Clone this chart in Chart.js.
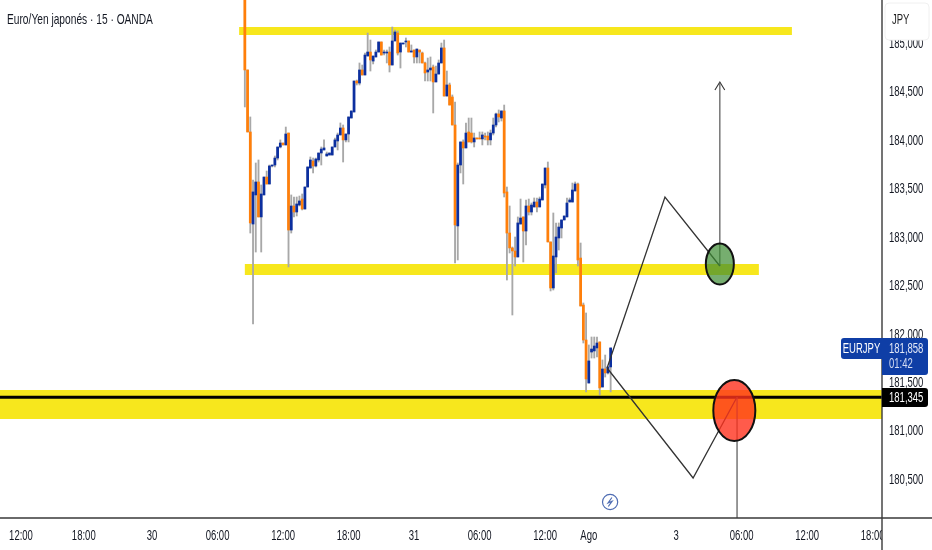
<!DOCTYPE html>
<html>
<head>
<meta charset="utf-8">
<script src="https://cdn.jsdelivr.net/npm/chart.js@4/dist/chart.umd.min.js"></script>
<style>
  html, body { margin: 0; padding: 0; background: #fff; overflow: hidden; }
  canvas { display: block; }
</style>
</head>
<body>
<canvas id="chart" width="932" height="550"></canvas>
<script>
// EUR/JPY 15 min candles
const firstBar = 82;
const opens = [185.496,184.722,184.082,183.132,183.432,183.566,183.205,183.432,183.617,183.545,183.731,183.741,183.813,183.927,183.968,183.948,184.071,183.070,183.318,183.256,183.328,183.390,183.287,183.514,183.710,183.782,183.731,183.793,183.865,183.896,183.834,183.844,183.844,183.927,183.989,184.051,184.123,184.000,184.061,184.226,184.288,184.608,184.587,184.722,184.670,184.866,184.907,184.814,184.856,184.907,185.011,184.897,184.897,184.907,184.773,185.021,185.103,184.907,184.990,185.011,185.021,184.907,184.928,184.856,184.928,184.897,184.794,184.701,184.722,184.753,184.598,184.680,184.794,184.949,184.453,184.567,184.443,184.154,183.112,183.741,183.979,183.917,184.082,184.071,183.979,184.020,184.020,184.010,184.040,184.040,184.000,184.071,184.154,184.268,184.226,184.299,183.463,183.039,182.885,182.854,182.792,183.132,183.205,183.060,183.318,183.256,183.308,183.359,183.308,183.380,183.535,183.710,182.947,182.472,182.792,182.988,183.091,183.174,183.205,183.359,183.359,183.473,183.545,182.781,182.296,181.935,181.491,181.811,181.822,181.853,181.915,181.450,181.636,181.595,181.657];
const closes = [184.722,184.082,183.143,183.463,183.566,183.205,183.442,183.617,183.545,183.731,183.741,183.813,183.927,183.968,183.948,184.061,183.070,183.318,183.256,183.339,183.370,183.287,183.514,183.721,183.793,183.731,183.803,183.865,183.906,183.917,183.855,183.865,183.927,184.000,184.051,184.123,184.000,184.061,184.237,184.299,184.608,184.587,184.722,184.670,184.876,184.907,184.825,184.866,184.907,185.011,184.876,184.907,184.907,184.773,185.021,185.114,184.897,185.000,185.000,185.021,184.907,184.918,184.856,184.938,184.907,184.794,184.691,184.722,184.742,184.598,184.680,184.794,184.949,184.453,184.567,184.360,184.154,183.122,183.741,183.979,183.917,184.071,183.979,183.979,184.020,184.010,184.010,184.051,184.030,184.000,184.071,184.154,184.268,184.237,184.299,183.452,183.039,182.885,182.854,182.792,183.143,183.194,183.060,183.318,183.256,183.328,183.359,183.308,183.390,183.545,183.710,182.947,182.472,182.802,182.998,183.101,183.174,183.215,183.349,183.380,183.483,183.545,182.761,182.286,181.935,181.533,181.719,181.842,181.873,181.904,181.440,181.636,181.595,181.657,181.853];
const highs = [185.496,184.722,184.237,183.586,183.762,183.793,183.535,183.617,183.679,183.741,183.741,183.834,183.927,184.000,183.968,184.133,184.071,183.432,183.411,183.411,183.421,183.442,183.514,183.721,183.824,183.813,183.813,183.865,183.927,184.000,183.875,183.865,183.927,184.020,184.071,184.175,184.154,184.061,184.237,184.299,184.608,184.618,184.794,184.773,184.897,185.103,185.031,184.866,184.928,185.011,185.011,184.928,184.928,184.959,185.165,185.134,185.124,185.000,185.000,185.052,185.021,184.980,184.928,184.938,184.928,184.907,184.804,184.845,184.856,184.773,184.763,184.825,185.000,185.031,184.711,184.587,184.464,184.391,183.762,183.979,184.000,184.175,184.226,184.226,184.071,184.020,184.082,184.082,184.071,184.082,184.102,184.226,184.278,184.309,184.299,184.360,183.514,183.318,182.895,182.998,183.205,183.390,183.205,183.380,183.390,183.349,183.401,183.401,183.411,183.545,183.710,183.772,182.947,183.246,183.143,183.143,183.174,183.215,183.401,183.401,183.555,183.566,183.555,182.936,182.317,182.214,181.884,181.966,181.966,181.966,181.915,181.729,181.780,181.657,181.853];
const lows = [184.340,184.082,183.039,182.100,182.843,183.205,182.843,183.432,183.545,183.545,183.721,183.721,183.793,183.917,183.948,183.948,182.689,183.039,183.205,183.215,183.318,183.277,183.287,183.514,183.710,183.659,183.721,183.772,183.741,183.896,183.834,183.844,183.844,183.927,183.896,184.051,183.772,183.979,183.979,184.226,184.288,184.567,184.567,184.670,184.670,184.866,184.711,184.784,184.856,184.907,184.876,184.876,184.794,184.701,184.773,185.021,184.876,184.742,184.990,184.959,184.907,184.907,184.794,184.794,184.794,184.794,184.608,184.608,184.608,184.278,184.598,184.680,184.794,184.453,184.453,184.360,184.154,182.730,182.761,183.659,183.545,183.917,183.979,183.968,183.927,184.010,184.010,183.948,184.000,183.948,183.948,184.051,184.133,184.185,184.195,183.411,182.554,182.833,182.193,182.699,182.792,183.132,182.740,182.916,183.225,183.225,183.308,183.256,183.308,183.380,183.504,182.947,182.441,182.451,182.627,182.864,182.988,183.174,183.205,183.359,183.359,183.473,182.699,182.286,181.904,181.399,181.491,181.749,181.749,181.760,181.368,181.450,181.553,181.584,181.399];

// time axis, bar numbers of the labelled ticks
const xTickValues = [0, 23, 48, 72, 96, 120, 144, 168, 192, 208, 240, 264, 288, 312];
const xTickLabels = ['12:00', '18:00', '30', '06:00', '12:00', '18:00', '31', '06:00', '12:00', 'Ago', '3', '06:00', '12:00', '18:00'];
const xRange = [-7.69, 315.4];
const yRange = [180.098, 185.444];

// drawings on top of the candles
const bandTop = [[79.9, 185.124], [282.4, 185.124]];
const bandMid = [[82, 182.663], [270.3, 182.663]];
const bandLow = [[-7.69, 181.27], [315.4, 181.27]];
const lastLine = [[-7.69, 181.345], [315.4, 181.345]];
const pathUp = [[214.7, 181.646], [235.9, 183.411], [256, 182.699]];
const arrowUp = [[256, 182.699], [256, 184.598]];
const arrowHead = [[254.2, 184.515], [256, 184.598], [257.8, 184.515]];
const pathDown = [[214.7, 181.646], [246.2, 180.511], [262.3, 181.347]];
const stopDrop = [[262.3, 181.347], [262.3, 180.098]];
const ellipseTarget = [256, 182.72, 5.13, 0.212];
const ellipseStop = [261.3, 181.208, 7.7, 0.315];
const flashMark = [215.8, 180.263];

const UP = '#0c2f9f';
const DOWN = '#ff7f0a';
const FONT = '"Liberation Sans", sans-serif';
const SQUEEZE = 0.68; // the picture's text is narrow, none of the fonts here is

const toPoints = list => list.map(p => ({ x: p[0], y: p[1] }));
const lineSet = (list, color, width, order) => ({
    type: 'line', data: toPoints(list), borderColor: color, borderWidth: width,
    pointRadius: 0, tension: 0, order: order, borderCapStyle: 'butt'
});

const canvas = document.getElementById('chart');
const context = canvas.getContext('2d');
const plainFillText = context.fillText;
context.fillText = function (str, x, y) {
    plainFillText.call(this, str, x, y, this.measureText(str).width * SQUEEZE);
};

function text(ctx, str, x, y, color, font, align) {
    ctx.fillStyle = color;
    ctx.font = font;
    ctx.textAlign = align || 'left';
    ctx.textBaseline = 'middle';
    ctx.fillText(str, x, y);
}

function ellipse(ctx, xs, ys, e, fill) {
    const cx = xs.getPixelForValue(e[0]);
    const cy = ys.getPixelForValue(e[1]);
    const rx = Math.abs(xs.getPixelForValue(e[0] + e[2]) - cx);
    const ry = Math.abs(ys.getPixelForValue(e[1] + e[3]) - cy);
    ctx.beginPath();
    ctx.ellipse(cx, cy, rx, ry, 0, 0, Math.PI * 2);
    ctx.fillStyle = fill;
    ctx.fill();
    ctx.lineWidth = 2;
    ctx.strokeStyle = '#111';
    ctx.stroke();
}

const overlay = {
    id: 'overlay',
    afterDatasetsDraw(chart) {
        const { ctx, scales: { x, y } } = chart;
        ctx.save();
        ellipse(ctx, x, y, ellipseTarget, 'rgba(60,140,50,0.7)');
        ellipse(ctx, x, y, ellipseStop, 'rgba(255,50,30,0.8)');

        // flash icon
        const fx = x.getPixelForValue(flashMark[0]);
        const fy = y.getPixelForValue(flashMark[1]);
        ctx.strokeStyle = '#4f6db3';
        ctx.lineWidth = 1.2;
        ctx.beginPath();
        ctx.arc(fx, fy, 7.6, 0, Math.PI * 2);
        ctx.stroke();
        ctx.beginPath();
        ctx.moveTo(fx + 1.8, fy - 4.5);
        ctx.lineTo(fx - 2, fy + 0.8);
        ctx.lineTo(fx + 2, fy - 0.8);
        ctx.lineTo(fx - 1.8, fy + 4.5);
        ctx.stroke();

        text(ctx, 'Euro/Yen japonés · 15 · OANDA', 7, 20, '#131722', '15px ' + FONT);
        ctx.restore();
    },
    afterDraw(chart) {
        const { ctx } = chart;
        ctx.save();
        // cut the last time label at the price scale
        ctx.fillStyle = '#fff';
        ctx.fillRect(882, 519, 50, 31);

        ctx.strokeStyle = '#3a3a3a';
        ctx.lineWidth = 1.4;
        ctx.beginPath();
        ctx.moveTo(882, 0);
        ctx.lineTo(882, 550);
        ctx.moveTo(0, 518);
        ctx.lineTo(932, 518);
        ctx.stroke();

        // currency box
        ctx.beginPath();
        ctx.roundRect(885, 3, 44, 37, 4);
        ctx.fillStyle = '#fff';
        ctx.fill();
        ctx.strokeStyle = '#f0f0f0';
        ctx.lineWidth = 1;
        ctx.stroke();
        text(ctx, 'JPY', 892, 20, '#222', '14px ' + FONT);

        // symbol and price tags
        ctx.fillStyle = '#0f3ea6';
        ctx.beginPath();
        ctx.roundRect(841, 338, 41, 21, [3, 0, 0, 3]);
        ctx.fill();
        ctx.beginPath();
        ctx.roundRect(882, 338, 46, 37, [0, 3, 3, 0]);
        ctx.fill();
        text(ctx, 'EURJPY', 861.5, 349, '#fff', '14px ' + FONT, 'center');
        text(ctx, '181,858', 889, 349, '#e4e9f7', '14px ' + FONT);
        text(ctx, '01:42', 889, 364, '#d4dcf2', '14px ' + FONT);

        ctx.fillStyle = '#000';
        ctx.beginPath();
        ctx.roundRect(882, 388, 46, 19, [0, 3, 3, 0]);
        ctx.fill();
        text(ctx, '181,345', 889, 398, '#fff', '14px ' + FONT);
        ctx.restore();
    }
};

const noPadding = axis => {
    axis.paddingTop = 0;
    axis.paddingBottom = 0;
    axis.paddingLeft = 0;
    axis.paddingRight = 0;
};

const bars = opens.map((o, i) => firstBar + i);

new Chart(canvas, {
    type: 'bar',
    data: {
        datasets: [
            {
                data: bars.map((b, i) => ({ x: b, y: [opens[i], closes[i]] })),
                backgroundColor: opens.map((o, i) => closes[i] >= o ? UP : DOWN),
                barThickness: 2.1, grouped: false, order: 5
            },
            {
                data: bars.map((b, i) => ({ x: b, y: [lows[i], highs[i]] })),
                backgroundColor: '#a8a8a8',
                barThickness: 1.2, grouped: false, order: 6
            },
            lineSet(bandTop, '#f7e71d', 8, 9),
            lineSet(bandMid, '#f7e71d', 11, 9),
            lineSet(bandLow, '#f7e71d', 29, 9),
            lineSet(lastLine, '#000', 3, 4),
            lineSet(pathUp, '#333', 1.3, 3),
            lineSet(arrowUp, '#555', 1.2, 3),
            lineSet(arrowHead, '#333', 1.1, 3),
            lineSet(pathDown, '#333', 1.3, 3),
            lineSet(stopDrop, '#555', 1.2, 3)
        ]
    },
    plugins: [overlay],
    options: {
        responsive: false,
        animation: false,
        devicePixelRatio: 1,
        layout: { padding: 0 },
        plugins: { legend: { display: false }, tooltip: { enabled: false } },
        scales: {
            x: {
                type: 'linear',
                offset: false,
                min: xRange[0],
                max: xRange[1],
                grid: { display: false, drawTicks: false },
                border: { display: false },
                afterBuildTicks: axis => { axis.ticks = xTickValues.map(v => ({ value: v })); },
                afterFit: axis => { axis.height = 32; noPadding(axis); },
                ticks: {
                    autoSkip: false,
                    maxRotation: 0,
                    padding: 10,
                    color: '#131722',
                    font: { family: FONT, size: 14 },
                    callback: v => xTickLabels[xTickValues.indexOf(v)]
                }
            },
            y: {
                position: 'right',
                min: yRange[0],
                max: yRange[1],
                grid: { display: false, drawTicks: false },
                border: { display: false },
                afterFit: axis => { axis.width = 50; noPadding(axis); },
                ticks: {
                    stepSize: 0.5,
                    includeBounds: false,
                    padding: 7,
                    labelOffset: 1,
                    color: '#131722',
                    font: { family: FONT, size: 14 },
                    callback: v => v.toFixed(3).replace('.', ',')
                }
            }
        }
    }
});
</script>
</body>
</html>
